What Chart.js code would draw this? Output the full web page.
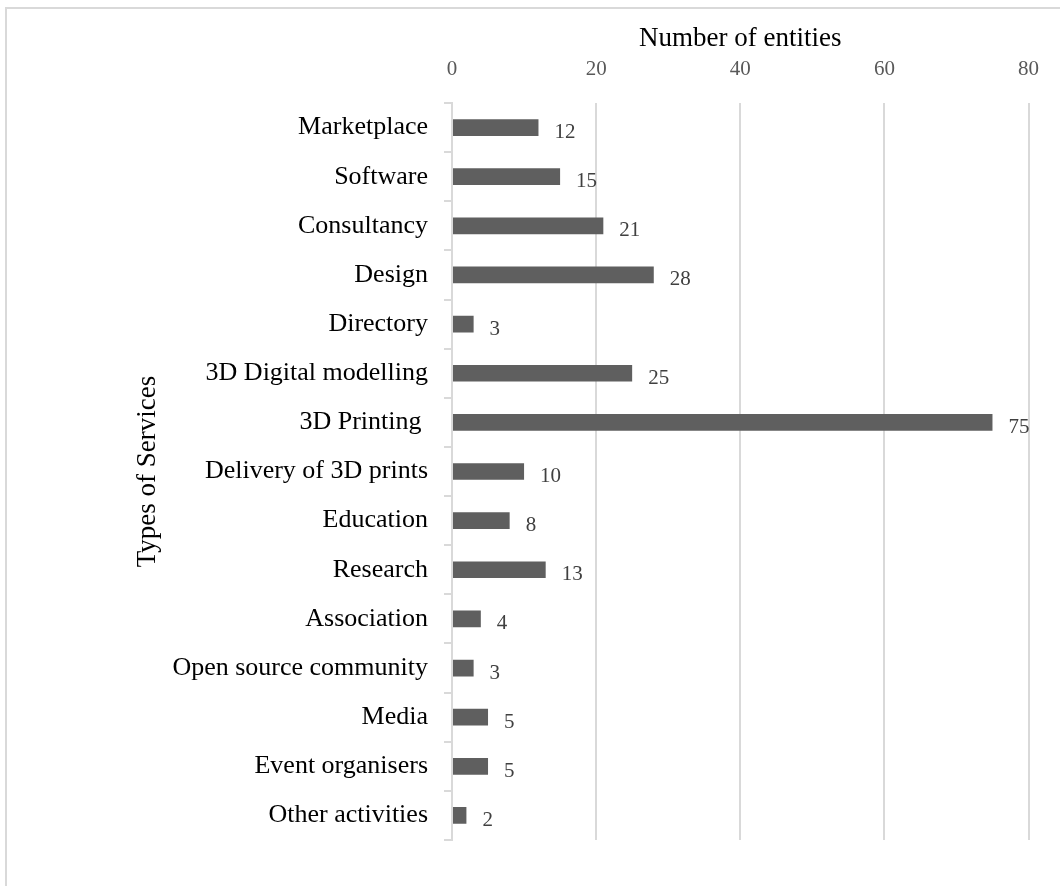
<!DOCTYPE html>
<html>
<head>
<meta charset="utf-8">
<title>Types of Services</title>
<script src="https://cdn.jsdelivr.net/npm/chart.js@4.4.1/dist/chart.umd.min.js"></script>
<style>
  body { margin: 0; background: #fff; overflow: hidden; }
  #frame { position: absolute; left: 5px; top: 7px; width: 1100px; height: 1000px; border: 2px solid #d9d9d9; box-sizing: border-box; }
  #wrap { position: absolute; left: 0; top: 0; width: 1060px; height: 886px; }
</style>
</head>
<body>
<div id="frame"></div>
<div id="wrap"><canvas id="myChart"></canvas></div>
<script>
"use strict"
// Kategorien und Werte
const services = ["Marketplace", "Software", "Consultancy", "Design", "Directory",
    "3D Digital modelling", "3D Printing ", "Delivery of 3D prints", "Education", "Research",
    "Association", "Open source community", "Media", "Event organisers", "Other activities"]
const entities = [12, 15, 21, 28, 3, 25, 75, 10, 8, 13, 4, 3, 5, 5, 2]
const xTicks = [0, 20, 40, 60, 80]

const serif = "'Liberation Serif', 'Times New Roman', serif"
const gridGrey = '#d9d9d9'

// Werte rechts neben die Balken schreiben
const valueLabels = {
    id: 'valueLabels',
    afterDatasetsDraw(chart) {
        const ctx = chart.ctx
        const meta = chart.getDatasetMeta(0)
        ctx.save()
        ctx.font = "21px " + serif
        ctx.fillStyle = '#404040'
        ctx.textAlign = 'left'
        ctx.textBaseline = 'middle'
        meta.data.forEach((bar, i) => {
            ctx.fillText(String(entities[i]), bar.x + 16, bar.y + 5)
        })
        ctx.restore()
    }
}

const config = {
    type: 'bar',
    data: {
        labels: services,
        datasets: [{
            data: entities,
            backgroundColor: '#5f5f5f',
            categoryPercentage: 1,
            barPercentage: 0.34
        }]
    },
    options: {
        indexAxis: 'y',
        responsive: true,
        maintainAspectRatio: false,
        animation: false,
        layout: { padding: { left: 0, top: 0, right: 29, bottom: 46 } },
        plugins: {
            legend: { display: false },
            tooltip: { enabled: false }
        },
        scales: {
            x: {
                position: 'top',
                min: 0,
                max: 80,
                afterBuildTicks: (scale) => { scale.ticks = xTicks.map(v => ({ value: v })) },
                afterFit: (scale) => { scale.height = 103 },
                grid: { color: gridGrey, lineWidth: 2, drawTicks: false },
                border: { display: false },
                ticks: { padding: 21, color: '#595959', font: { family: serif, size: 21 } },
                title: {
                    display: true,
                    text: 'Number of entities',
                    color: '#000',
                    font: { family: serif, size: 27 },
                    padding: { top: 23, bottom: 0 }
                }
            },
            y: {
                afterFit: (scale) => { scale.width = 452 },
                grid: { color: gridGrey, lineWidth: 2, drawOnChartArea: false, tickLength: 8 },
                border: { color: gridGrey, width: 2 },
                ticks: { padding: 16, color: '#000', font: { family: serif, size: 26 } },
                title: {
                    display: true,
                    text: 'Types of Services',
                    color: '#000',
                    font: { family: serif, size: 27 },
                    padding: { top: 132, bottom: 0 }
                }
            }
        }
    },
    plugins: [valueLabels]
}

new Chart(document.getElementById('myChart'), config)
</script>
</body>
</html>
